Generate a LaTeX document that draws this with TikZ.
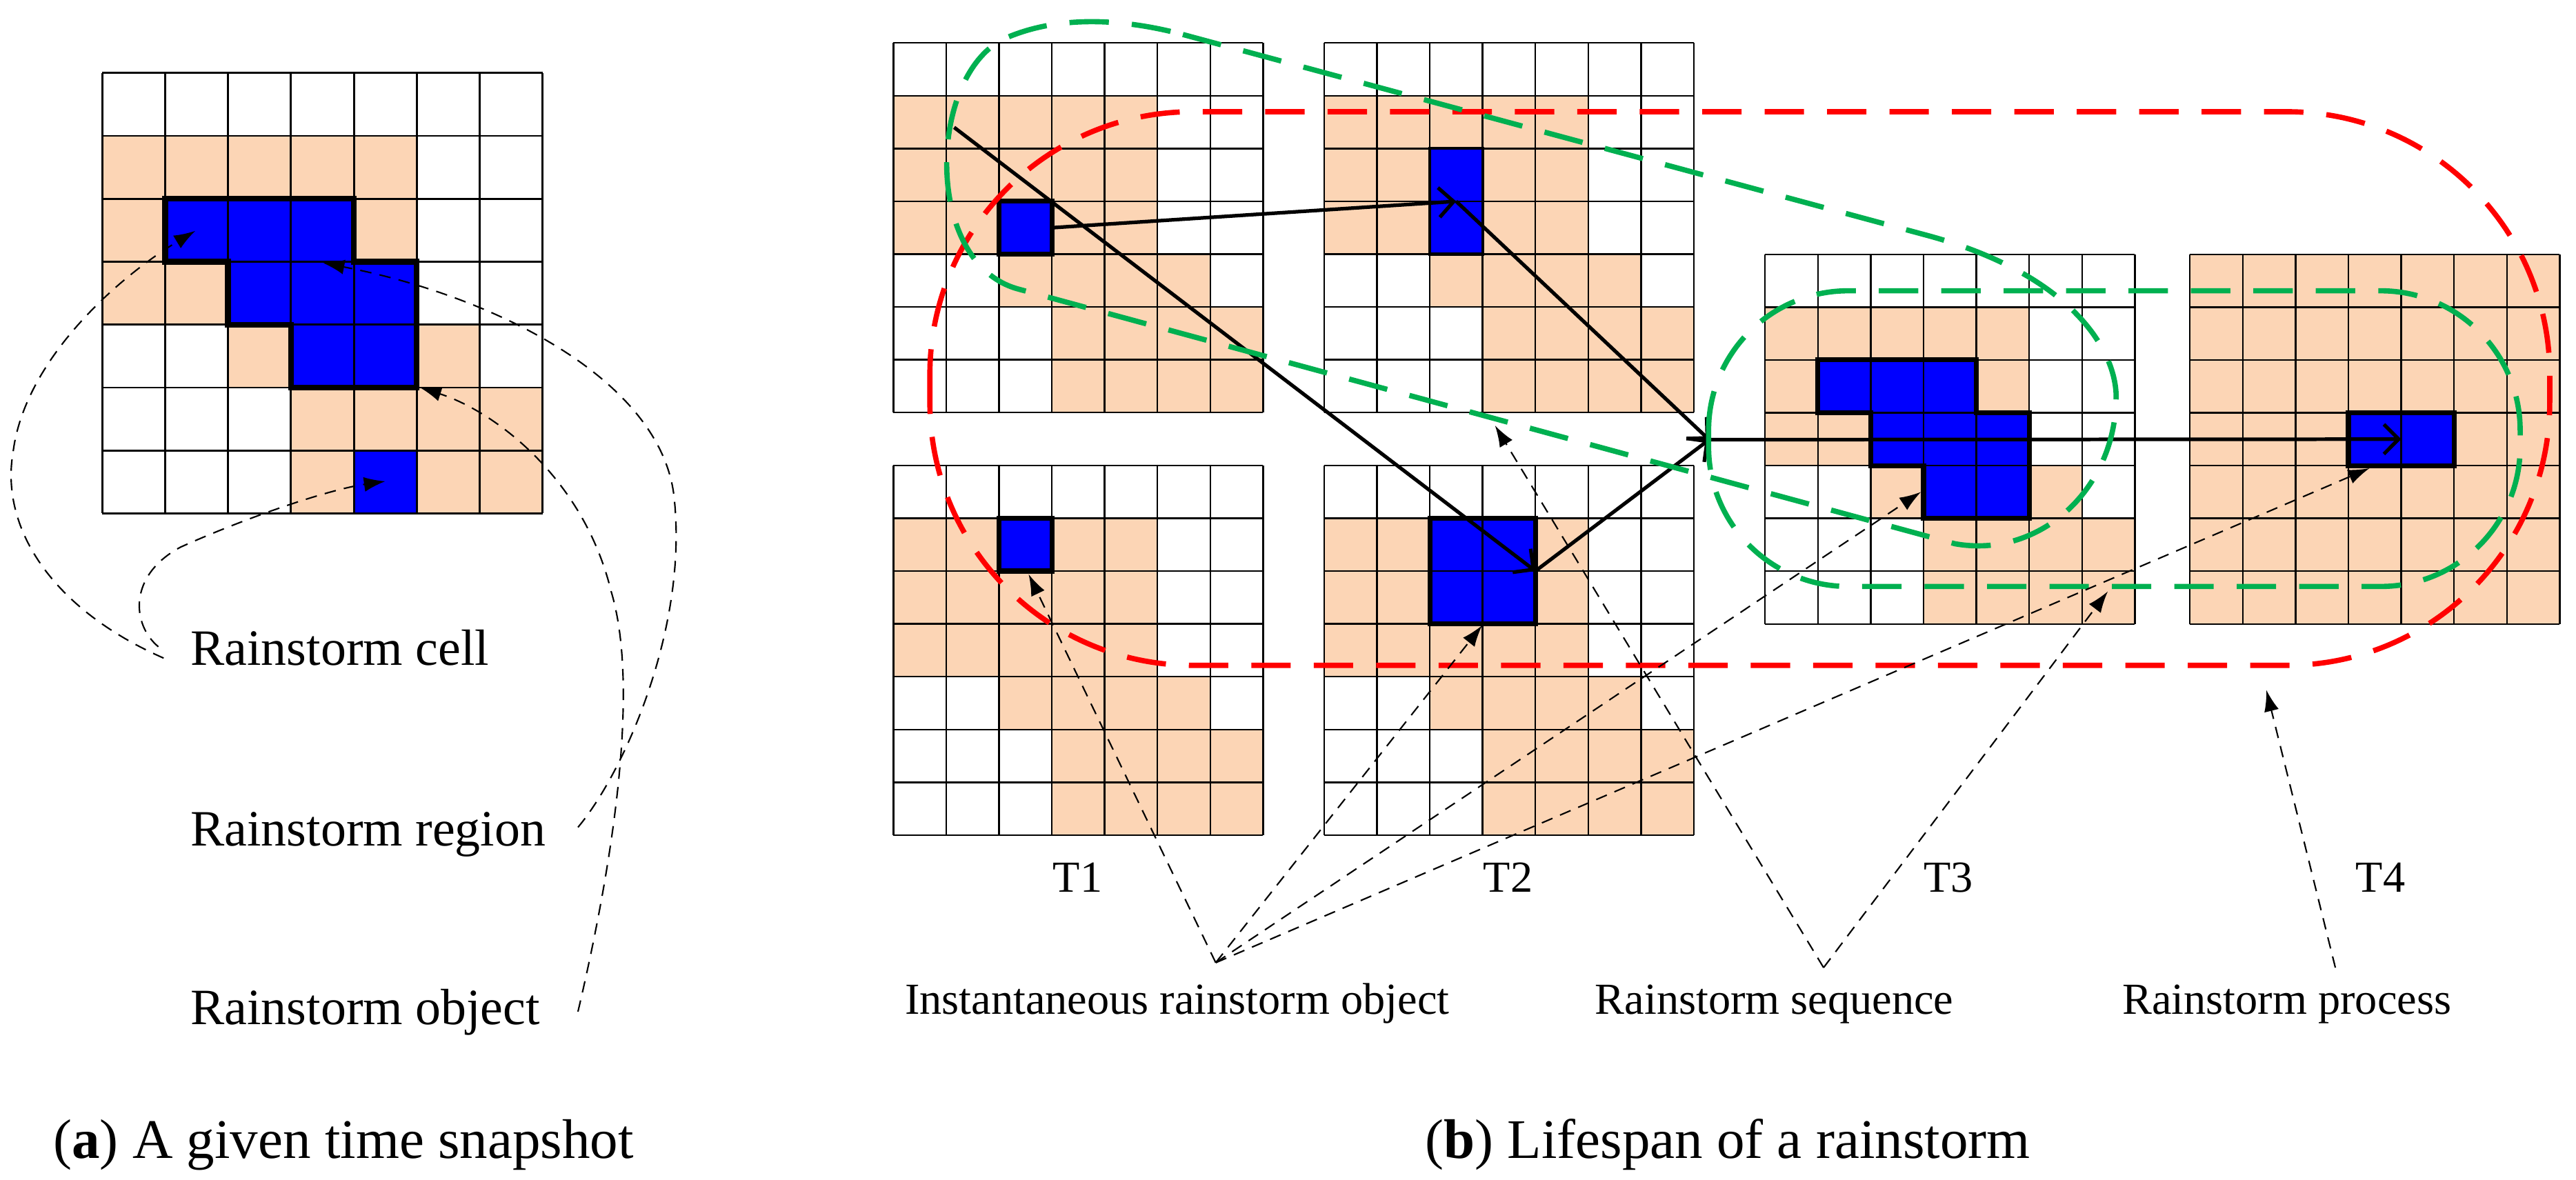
\documentclass[tikz,border=0pt]{standalone}
\usepackage{fontspec}
\setmainfont{Liberation Serif}
\usetikzlibrary{arrows.meta}
\definecolor{peach}{RGB}{252,213,181}
\definecolor{gblue}{RGB}{0,0,255}
\definecolor{dgreen}{RGB}{0,176,80}
\newcommand\basecells{\fill[peach] (0,1) rectangle (5,4) (2,4) rectangle (6,5) (3,5) rectangle (7,7);}
\newcommand\gridlines[1]{\foreach \i in {0,...,7}{\draw[line width=#1] (\i,0)--(\i,7); \draw[line width=#1] (0,\i)--(7,\i);}}
\begin{document}
\begin{tikzpicture}[x=1pt,y=-1pt,
 obj/.style={line width=3pt, line join=miter},
 move/.style={line width=2.2pt, -{Straight Barb[length=9pt,width=18pt,line width=2.2pt]}},
 lead/.style={line width=0.9pt, dash pattern=on 7pt off 5pt, -{Latex[length=13pt,width=9pt]}},
 proc/.style={red, line width=3.2pt, dash pattern=on 24pt off 14pt},
 seq/.style={dgreen, line width=3.2pt, dash pattern=on 24pt off 14pt},
 lab/.style={font=\fontsize{27}{30}\selectfont, anchor=base},
 alab/.style={font=\fontsize{31}{34}\selectfont, anchor=base west},
 capt/.style={font=\fontsize{34}{38}\selectfont, anchor=base west},
]
\useasboundingbox (0,0) rectangle (1568,718);

% ---------- (a) ----------
\begin{scope}[shift={(62.2,44.4)},x=38.3pt,y=-38.3pt]
 \basecells
 \fill[gblue] (1,2) rectangle (4,3) (2,3) rectangle (5,4) (3,4) rectangle (5,5) (4,6) rectangle (5,7);
 \gridlines{1.2pt}
 \draw[line width=3.5pt] (1,2) -- (4,2) -- (4,3) -- (5,3) -- (5,5) -- (3,5) -- (3,4) -- (2,4) -- (2,3) -- (1,3) -- cycle;
 \coordinate (aCell) at (1.48,2.51);
 \coordinate (aReg) at (3.51,3.02);
 \coordinate (aObj) at (5.05,5.0);
 \coordinate (aCell2) at (4.5,6.49);
\end{scope}
\node[alab] (lcell) at (112.5,405) {Rainstorm cell};
\node[alab] (lreg) at (112.5,515) {Rainstorm region};
\node[alab] (lobj) at (112.5,623.5) {Rainstorm object};
\coordinate (cellS) at (99.6,400.6);
\coordinate (cellS2) at (96.4,393.7);
\coordinate (regS) at (351.8,503.6);
\coordinate (objS) at (351.8,615.8);
\draw[lead] (cellS) .. controls (30,370) and (0,320) .. (8,275) .. controls (15,220) and (70,170) .. (aCell);
\draw[lead] (cellS2) .. controls (80,380) and (78,350) .. (110,333) .. controls (150,315) and (200,298) .. (aCell2);
\draw[lead] (regS) .. controls (380,470) and (420,380) .. (410,300) .. controls (400,230) and (300,180) .. (aReg);
\draw[lead] (objS) .. controls (372,530) and (390,420) .. (372,360) .. controls (355,290) and (300,250) .. (aObj);
\node[capt] (capa) at (29,705) {(\textbf{a}) A given time snapshot};

% ---------- (b) grids ----------
\begin{scope}[shift={(543.8,26.1)},x=32.15pt,y=-32.15pt]
 \basecells
 \fill[gblue] (2,3) rectangle (3,4);
 \gridlines{1pt}
 \draw[obj] (2,3) rectangle (3,4);
 \coordinate (s1) at (1.15,1.6);
 \coordinate (g1b) at (3,3.5);
\end{scope}
\begin{scope}[shift={(806.0,26.1)},x=32.15pt,y=-32.15pt]
 \basecells
 \fill[gblue] (2,2) rectangle (3,4);
 \gridlines{1pt}
 \draw[line width=1.8pt] (2,2) rectangle (3,4);
 \coordinate (g2b) at (2.5,3);
\end{scope}
\begin{scope}[shift={(543.8,283.3)},x=32.15pt,y=-32.15pt]
 \basecells
 \fill[gblue] (2,1) rectangle (3,2);
 \gridlines{1pt}
 \draw[obj] (2,1) rectangle (3,2);
 \coordinate (b1t) at (2.56,2.06);
\end{scope}
\begin{scope}[shift={(806.0,283.3)},x=32.15pt,y=-32.15pt]
 \basecells
 \fill[gblue] (2,1) rectangle (4,3);
 \gridlines{1pt}
 \draw[obj] (2,1) rectangle (4,3);
 \coordinate (b2c) at (4,2);
 \coordinate (b2t) at (2.99,3.03);
\end{scope}
\begin{scope}[shift={(1074.4,154.8)},x=32.15pt,y=-32.15pt]
 \basecells
 \fill[gblue] (1,2) rectangle (4,3) (2,3) rectangle (5,4) (3,4) rectangle (5,5);
 \gridlines{1pt}
 \draw[obj] (1,2) -- (4,2) -- (4,3) -- (5,3) -- (5,5) -- (3,5) -- (3,4) -- (2,4) -- (2,3) -- (1,3) -- cycle;
 \coordinate (conv) at (-1.06,3.51);
 \coordinate (t3t) at (2.95,4.5);
\end{scope}
\begin{scope}[shift={(1333.0,154.8)},x=32.15pt,y=-32.15pt]
 \fill[peach] (0,0) rectangle (7,7);
 \fill[gblue] (3,3) rectangle (5,4);
 \gridlines{1pt}
 \draw[obj] (3,3) rectangle (5,4);
 \coordinate (t4b) at (4,3.5);
 \coordinate (t4t) at (3.4,4.05);
\end{scope}

% movement arrows
\draw[move] (s1) -- (b2c);
\draw[move] (g1b) -- (g2b);
\draw[move] (g2b) -- (conv);
\draw[move] (b2c) -- (conv);
\draw[move] (conv) -- (t4b);

% process and sequences
\draw[proc, rounded corners=160pt] (566,68) rectangle (1552,405);
\draw[seq] (720,21) -- (1172,143) .. controls (1262,167) and (1290,215) .. (1288,245)
  .. controls (1286,300) and (1240,340) .. (1190,331) -- (620,176)
  .. controls (560,160) and (565,40) .. (615,22) .. controls (650,8) and (690,13) .. (720,21) -- cycle;
\draw[seq, rounded corners=85pt] (1040,177) rectangle (1534,357);

% labels
\node[lab] (T1) at (656,543) {T1};
\node[lab] (T2) at (918,543) {T2};
\node[lab] (T3) at (1186,543) {T3};
\node[lab] (T4) at (1449,543) {T4};
\node[lab] (inst) at (716.5,617.5) {Instantaneous rainstorm object};
\node[lab] (seqL) at (1080,617.5) {Rainstorm sequence};
\node[lab] (procL) at (1392,617.5) {Rainstorm process};
\coordinate (instP) at (740,586);
\coordinate (seqP) at (1110,589);
\coordinate (procP) at (1421.5,589);
\coordinate (g1p) at (910,259);
\coordinate (g2p) at (1283,360);
\coordinate (rp) at (1379.5,420);
\draw[lead] (instP) -- (b1t);
\draw[lead] (instP) -- (b2t);
\draw[lead] (instP) -- (t3t);
\draw[lead] (instP) -- (t4t);
\draw[lead] (seqP) -- (g1p);
\draw[lead] (seqP) -- (g2p);
\draw[lead] (procP) -- (rp);
\node[capt] (capb) at (864,705) {(\textbf{b}) Lifespan of a rainstorm};
\end{tikzpicture}
\end{document}
